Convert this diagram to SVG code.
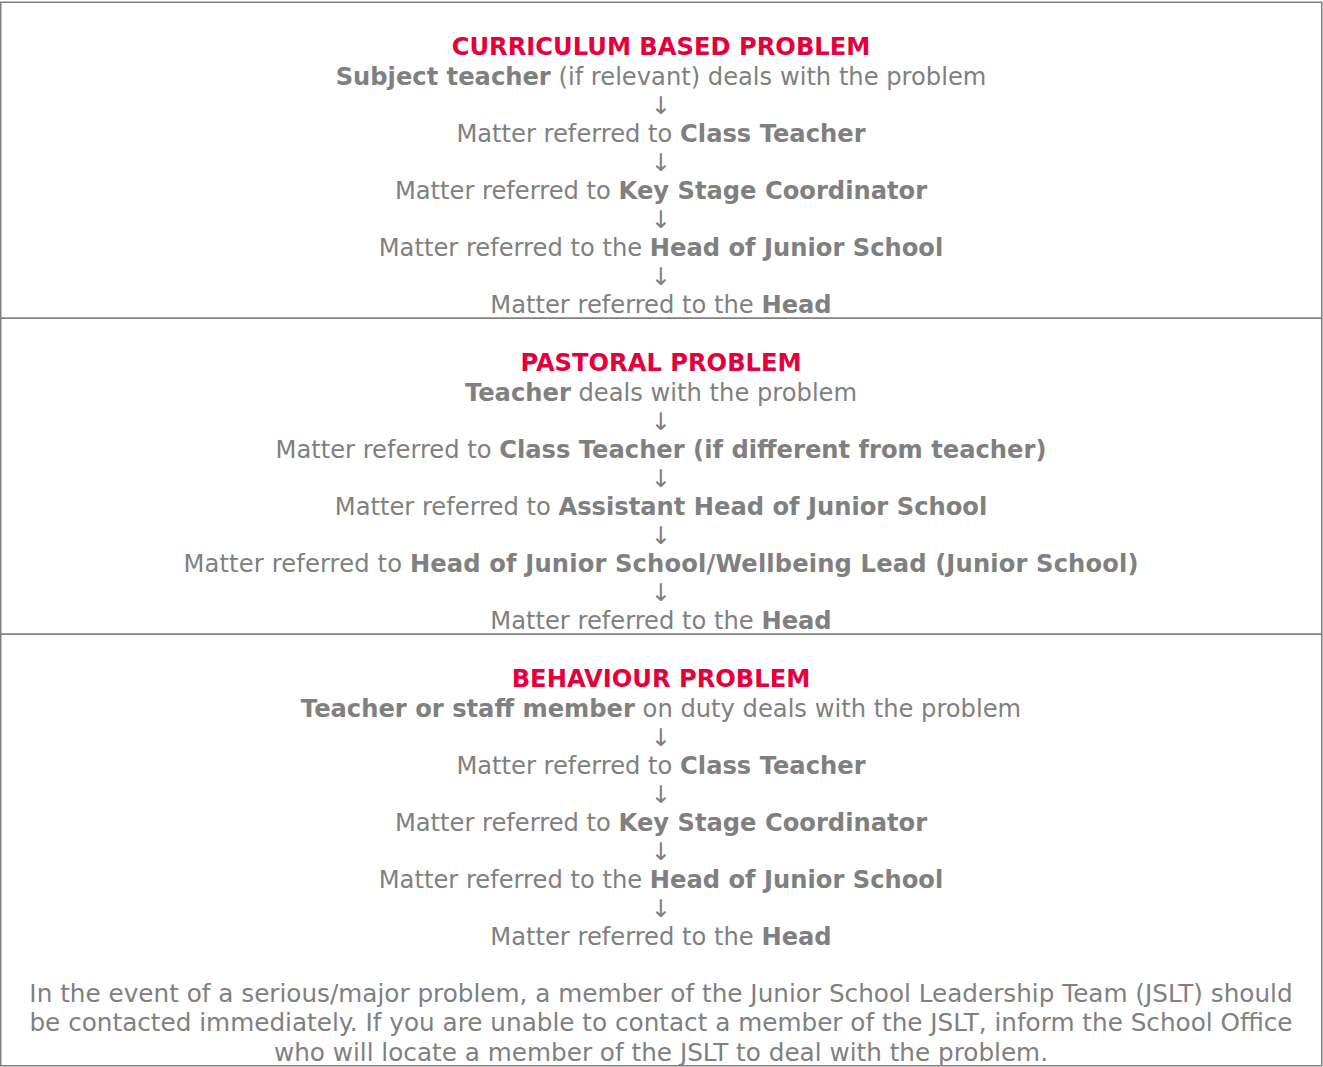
<svg xmlns="http://www.w3.org/2000/svg" width="1323" height="1067" viewBox="0 0 1323 1067">
<style>
text{font-family:"DejaVu Sans",Verdana,sans-serif;font-size:24.2px;fill:#808080;text-anchor:middle}
.t{fill:#e4003b;font-weight:bold}
.b{font-weight:bold}
.f{font-size:24.7px}
.box{fill:#fff;stroke:#808080;stroke-width:1.5}
</style>
<rect x="0" y="0" width="1323" height="1067" fill="#fff"/>
<g id="curriculum">
<rect class="box" x="0.75" y="2.25" width="1321" height="316"/>
<text class="t" x="661" y="55">CURRICULUM BASED PROBLEM</text>
<text x="661" y="85"><tspan class="b">Subject teacher</tspan> (if relevant) deals with the problem</text>
<text x="661" y="142">Matter referred to <tspan class="b">Class Teacher</tspan></text>
<text x="661" y="199">Matter referred to <tspan class="b">Key Stage Coordinator</tspan></text>
<text x="661" y="256">Matter referred to the <tspan class="b">Head of Junior School</tspan></text>
<text x="661" y="313">Matter referred to the <tspan class="b">Head</tspan></text>
</g>
<g id="pastoral">
<rect class="box" x="0.75" y="318.25" width="1321" height="316"/>
<text class="t" x="661" y="371">PASTORAL PROBLEM</text>
<text x="661" y="401"><tspan class="b">Teacher</tspan> deals with the problem</text>
<text x="661" y="458">Matter referred to <tspan class="b">Class Teacher (if different from teacher)</tspan></text>
<text x="661" y="515">Matter referred to <tspan class="b">Assistant Head of Junior School</tspan></text>
<text x="661" y="572" textLength="955" lengthAdjust="spacing">Matter referred to <tspan class="b">Head of Junior School/Wellbeing Lead (Junior School)</tspan></text>
<text x="661" y="629">Matter referred to the <tspan class="b">Head</tspan></text>
</g>
<g id="behaviour">
<rect class="box" x="0.75" y="634.25" width="1321" height="431.5"/>
<text class="t" x="661" y="687">BEHAVIOUR PROBLEM</text>
<text x="661" y="717"><tspan class="b">Teacher or staff member</tspan> on duty deals with the problem</text>
<text x="661" y="774">Matter referred to <tspan class="b">Class Teacher</tspan></text>
<text x="661" y="831">Matter referred to <tspan class="b">Key Stage Coordinator</tspan></text>
<text x="661" y="888">Matter referred to the <tspan class="b">Head of Junior School</tspan></text>
<text x="661" y="945">Matter referred to the <tspan class="b">Head</tspan></text>
<text class="f" x="661" y="1001.5">In the event of a serious/major problem, a member of the Junior School Leadership Team (JSLT) should</text>
<text class="f" x="661" y="1031">be contacted immediately. If you are unable to contact a member of the JSLT, inform the School Office</text>
<text class="f" x="661" y="1060.5">who will locate a member of the JSLT to deal with the problem.</text>
</g>
<g id="connectors">
<text x="661" y="113.5">↓</text>
<text x="661" y="170.5">↓</text>
<text x="661" y="227.5">↓</text>
<text x="661" y="284.5">↓</text>
<text x="661" y="429.5">↓</text>
<text x="661" y="486.5">↓</text>
<text x="661" y="543.5">↓</text>
<text x="661" y="600.5">↓</text>
<text x="661" y="745.5">↓</text>
<text x="661" y="802.5">↓</text>
<text x="661" y="859.5">↓</text>
<text x="661" y="916.5">↓</text>
</g>
</svg>
